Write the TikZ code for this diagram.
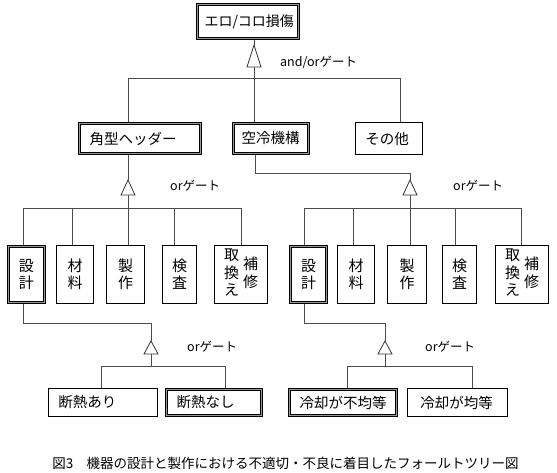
\documentclass[tikz,border=0pt]{standalone}
\usepackage{fontspec}
\setmainfont{Noto Sans CJK JP}
\usetikzlibrary{backgrounds}
\begin{document}
\begin{tikzpicture}[x=1pt,y=-1pt,
  conn/.style={draw=black!70, line width=0.8pt},
  sbox/.style={draw=black, line width=0.8pt, fill=white, inner sep=0pt,
    font=\fontsize{14.5}{17}\selectfont},
  dbox/.style={draw=black, line width=0.7pt, double=black!40, double distance=1.4pt,
    fill=white, inner sep=0pt, font=\fontsize{14.5}{17}\selectfont},
  hbox/.style={inner xsep=#1, align=left},
  vtext/.style={align=center, font=\fontsize{15}{17}\selectfont},
  gatetri/.style={draw=black!80, line width=0.8pt, fill=white},
  glabel/.style={font=\fontsize{12.5}{14}\selectfont, anchor=west, inner sep=0pt}
]
\useasboundingbox (0,0) rectangle (557,472);

% ---- top ----
\node[dbox, hbox=7pt, text width=87pt, minimum height=34pt, font=\fontsize{14}{17}\selectfont] (top) at (248,21.5) {エロ/コロ損傷};

% ---- level 2 ----
\node[dbox, hbox=10pt, text width=101pt, minimum height=30pt] (kaku) at (140,138.5) {角型ヘッダー};
\node[dbox, hbox=8pt, text width=59pt, minimum height=30pt] (kuurei) at (271,138.5) {空冷機構};
\node[sbox, hbox=10pt, text width=47.2pt, minimum height=32.2pt] (sonota) at (389,138.5) {その他};

% ---- level 3 left ----
\node[dbox, vtext, minimum width=36pt, minimum height=56pt] (l1) at (26.5,274.5) {設\\計};
\node[sbox, vtext, minimum width=37.2pt, minimum height=58.2pt] (l2) at (75,274.5) {材\\料};
\node[sbox, vtext, minimum width=38.2pt, minimum height=58.2pt] (l3) at (125.5,274.5) {製\\作};
\node[sbox, vtext, minimum width=34.2pt, minimum height=58.2pt] (l4) at (179.5,274.5) {検\\査};
\node[sbox, minimum width=53.2pt, minimum height=58.2pt, font=\fontsize{15}{17}\selectfont] (l5) at (241,274.5)
  {\begin{tabular}[c]{@{}c@{}}取\\換\\え\end{tabular}\hspace{4pt}\begin{tabular}[c]{@{}c@{}}補\\修\end{tabular}};

% ---- level 3 right ----
\node[dbox, vtext, minimum width=36pt, minimum height=56pt] (r1) at (308.5,274.5) {設\\計};
\node[sbox, vtext, minimum width=37.2pt, minimum height=58.2pt] (r2) at (356,274.5) {材\\料};
\node[sbox, vtext, minimum width=39.2pt, minimum height=58.2pt] (r3) at (407,274.5) {製\\作};
\node[sbox, vtext, minimum width=34.2pt, minimum height=58.2pt] (r4) at (459.5,274.5) {検\\査};
\node[sbox, minimum width=53.2pt, minimum height=58.2pt, font=\fontsize{15}{17}\selectfont] (r5) at (522,274.5)
  {\begin{tabular}[c]{@{}c@{}}取\\換\\え\end{tabular}\hspace{4pt}\begin{tabular}[c]{@{}c@{}}補\\修\end{tabular}};

% ---- level 4 ----
\node[sbox, hbox=10pt, text width=89.2pt, minimum height=28.2pt] (dana) at (103,402.5) {断熱あり};
\node[dbox, hbox=10pt, text width=75pt, minimum height=26pt] (dann) at (214,402.5) {断熱なし};
\node[dbox, hbox=10pt, text width=87pt, minimum height=26pt] (fukin) at (343,402.5) {冷却が不均等};
\node[sbox, hbox=13pt, text width=74.2pt, minimum height=28.2pt] (kin) at (457.5,402.5) {冷却が均等};

% ---- gate coordinates ----
\coordinate (g1) at (254,45);  \coordinate (g1b) at (254,67);
\coordinate (j1) at (254,78);  \coordinate (b1a) at (128,78); \coordinate (b1c) at (400,78);

\coordinate (g2) at (128,180); \coordinate (g2b) at (128,195);
\coordinate (b2a) at (23,208); \coordinate (b2b) at (72,208); \coordinate (j2) at (128,208);
\coordinate (b2d) at (174,208); \coordinate (b2e) at (241,208);

\coordinate (k1) at (255,173); \coordinate (k2) at (410,173);
\coordinate (g3) at (410,180); \coordinate (g3b) at (410,195);
\coordinate (b3a) at (304,208); \coordinate (b3b) at (353,208); \coordinate (j3) at (410,208);
\coordinate (b3d) at (455,208); \coordinate (b3e) at (521,208);

\coordinate (d1) at (23,323); \coordinate (d2) at (151,323);
\coordinate (g4) at (151,341); \coordinate (g4b) at (151,354);
\coordinate (b4a) at (101,366); \coordinate (j4) at (151,366); \coordinate (b4c) at (225,366);

\coordinate (e1) at (304,323); \coordinate (e2) at (385,323);
\coordinate (g5) at (385,341); \coordinate (g5b) at (385,354);
\coordinate (b5a) at (347,366); \coordinate (j5) at (385,366); \coordinate (b5c) at (472,366);

\begin{scope}[on background layer]
  \fill[white] (0,0) rectangle (557,472);
  % top gate
  \draw[conn] (top.south -| g1) -- (g1);
  \draw[conn] (g1b) -- (j1);
  \draw[conn] (b1a) -- (b1c);
  \draw[conn] (b1a) -- (b1a |- kaku.north);
  \draw[conn] (j1) -- (j1 |- kuurei.north);
  \draw[conn] (b1c) -- (b1c |- sonota.north);
  % left gate
  \draw[conn] (kaku.south -| g2) -- (g2);
  \draw[conn] (g2b) -- (j2);
  \draw[conn] (b2a) -- (b2e);
  \draw[conn] (b2a) -- (b2a |- l1.north);
  \draw[conn] (b2b) -- (b2b |- l2.north);
  \draw[conn] (j2) -- (j2 |- l3.north);
  \draw[conn] (b2d) -- (b2d |- l4.north);
  \draw[conn] (b2e) -- (b2e |- l5.north);
  % right gate
  \draw[conn] (kuurei.south -| k1) -- (k1) -- (k2) -- (g3);
  \draw[conn] (g3b) -- (j3);
  \draw[conn] (b3a) -- (b3e);
  \draw[conn] (b3a) -- (b3a |- r1.north);
  \draw[conn] (b3b) -- (b3b |- r2.north);
  \draw[conn] (j3) -- (j3 |- r3.north);
  \draw[conn] (b3d) -- (b3d |- r4.north);
  \draw[conn] (b3e) -- (b3e |- r5.north);
  % bottom left gate
  \draw[conn] (l1.south -| d1) -- (d1) -- (d2) -- (g4);
  \draw[conn] (g4b) -- (j4);
  \draw[conn] (b4a) -- (b4c);
  \draw[conn] (b4a) -- (b4a |- dana.north);
  \draw[conn] (b4c) -- (b4c |- dann.north);
  % bottom right gate
  \draw[conn] (r1.south -| e1) -- (e1) -- (e2) -- (g5);
  \draw[conn] (g5b) -- (j5);
  \draw[conn] (b5a) -- (b5c);
  \draw[conn] (b5a) -- (b5a |- fukin.north);
  \draw[conn] (b5c) -- (b5c |- kin.north);
\end{scope}

% ---- gate triangles ----
\draw[gatetri] (g1) -- ++(7,22) -- ++(-14,0) -- cycle;
\draw[gatetri] (g2) -- ++(7,15) -- ++(-14,0) -- cycle;
\draw[gatetri] (g3) -- ++(7,15) -- ++(-14,0) -- cycle;
\draw[gatetri] (g4) -- ++(7,13) -- ++(-14,0) -- cycle;
\draw[gatetri] (g5) -- ++(7,13) -- ++(-14,0) -- cycle;

% ---- gate labels ----
\node[glabel] (lab1) at (280,62) {and/orゲート};
\node[glabel] (lab2) at (170,186) {orゲート};
\node[glabel] (lab3) at (453,186) {orゲート};
\node[glabel] (lab4) at (187,347) {orゲート};
\node[glabel] (lab5) at (425,347) {orゲート};

% ---- caption ----
\node[font=\fontsize{13.5}{15}\selectfont, inner sep=0pt] (cap) at (285.5,463)
  {図3　機器の設計と製作における不適切・不良に着目したフォールトツリー図};
\end{tikzpicture}
\end{document}
